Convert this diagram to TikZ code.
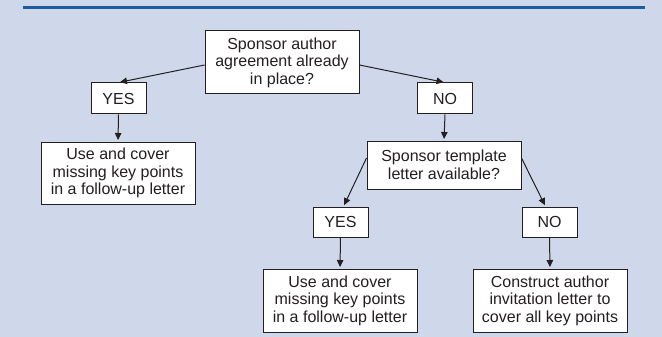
\documentclass[tikz,border=0pt]{standalone}
\usepackage{fontspec}
\setmainfont{Liberation Sans}
\usetikzlibrary{arrows.meta}
\definecolor{bgc}{RGB}{207,216,234}
\definecolor{topline}{RGB}{30,92,160}
\definecolor{ink}{RGB}{35,31,32}
\tikzset{
  box/.style={draw=ink, line width=1pt, fill=white, align=center, inner sep=0pt,
    font=\fontsize{16}{17.5}\selectfont, text=ink},
  bigbox/.style={box, minimum width=154pt, minimum height=63pt},
  ansbox/.style={box, minimum width=55pt, minimum height=31pt},
  conn/.style={draw=ink, line width=1pt, -{Triangle[length=7pt,width=6.5pt]}, shorten >=1.5pt}
}
\begin{document}
\begin{tikzpicture}[x=1pt,y=-1pt]
\fill[bgc] (0,0) rectangle (662,337);
\useasboundingbox (0,0) rectangle (662,337);
\draw[topline, line width=2.5pt] (23,7.5) -- (645,7.5);

\node[bigbox] (top) at (282,62.5) {Sponsor author\\agreement already\\in place?};
\node[ansbox] (yes1) at (118.5,98.5) {YES};
\node[ansbox] (no1) at (445,98.5) {NO};
\node[bigbox, minimum height=62pt] (use1) at (118,173) {Use and cover\\missing key points\\in a follow-up letter};
\node[bigbox, minimum height=48pt] (tmpl) at (444,165) {Sponsor template\\letter available?};
\node[ansbox, minimum height=30pt] (yes2) at (340.5,222) {YES};
\node[ansbox, minimum height=30pt] (no2) at (549.5,222) {NO};
\node[bigbox] (use2) at (340,300.5) {Use and cover\\missing key points\\in a follow-up letter};
\node[bigbox] (cons) at (550,300.5) {Construct author\\invitation letter to\\cover all key points};

\draw[conn] ([yshift=-2.5pt]top.west) -- (yes1.north);
\draw[conn] ([yshift=-2.5pt]top.east) -- (no1.north);
\draw[conn] (yes1.south) -- (use1.north);
\draw[conn] (no1.south) -- (tmpl.north);
\draw[conn] ([yshift=7pt]tmpl.west) -- ([xshift=3pt]yes2.north);
\draw[conn] ([yshift=7pt]tmpl.east) -- ([xshift=-4pt]no2.north);
\draw[conn] (yes2.south) -- (use2.north);
\draw[conn] (no2.south) -- (cons.north);
\end{tikzpicture}
\end{document}
